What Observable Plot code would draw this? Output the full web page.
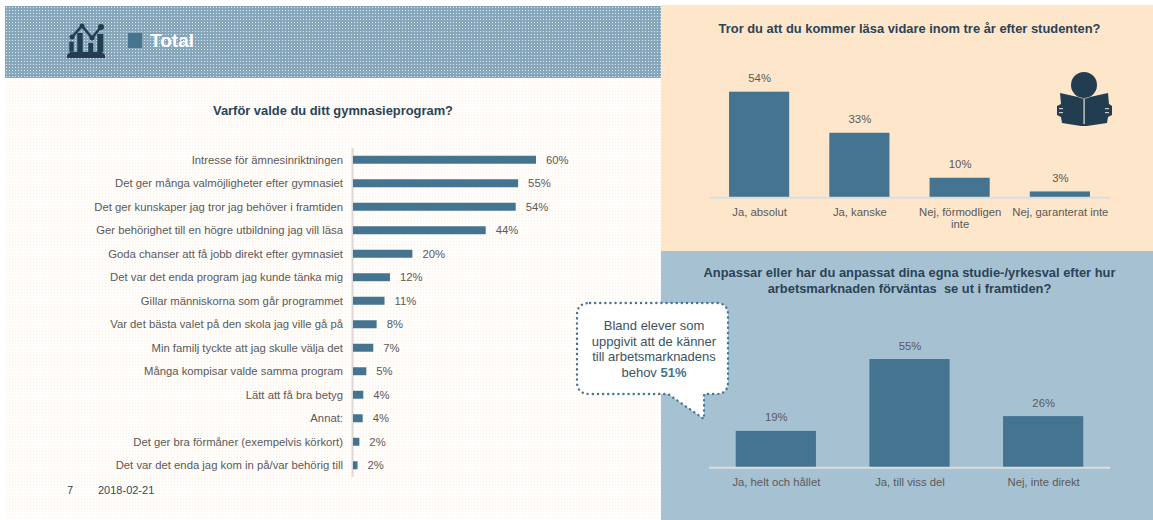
<!DOCTYPE html>
<html><head><meta charset="utf-8">
<script src="https://cdn.jsdelivr.net/npm/d3@7"></script>
<script src="https://cdn.jsdelivr.net/npm/@observablehq/plot@0.6"></script>
<style>
html,body{margin:0;padding:0;background:#fff;font-family:"Liberation Sans",Arial,sans-serif;}
#page{position:relative;width:1153px;height:520px;overflow:hidden;background:#fff;}
.abs{position:absolute;}
#head{left:5px;top:6px;width:656px;height:72px;background-color:#86a6bb;
 background-image:url("data:image/svg+xml,%3Csvg xmlns='http://www.w3.org/2000/svg' width='3' height='3'%3E%3Crect x='1' y='1' width='1' height='1' fill='%23fff' fill-opacity='.75'/%3E%3C/svg%3E");background-size:3px 3px;}
#left{left:5px;top:78px;width:656px;height:442px;background-color:#fffefd;
 background-image:url("data:image/svg+xml,%3Csvg xmlns='http://www.w3.org/2000/svg' width='3' height='3'%3E%3Crect x='1' y='1' width='1' height='1' fill='%23fde2c4' fill-opacity='.6'/%3E%3C/svg%3E");background-size:3px 3px;}
#rt{left:661px;top:5px;width:492px;height:246px;background:#fee6cb;}
#rb{left:661px;top:251px;width:492px;height:269px;background:#a6c2d2;}
.title{position:absolute;color:#2a4356;font-weight:bold;font-size:12.9px;line-height:16px;text-align:center;}
.small{position:absolute;color:#33495a;font-size:11px;}
.plot{position:absolute;}
</style></head><body>
<div id="page">
<div class="abs" id="head"></div>
<div class="abs" id="left"></div>
<div class="abs" id="rt"></div>
<div class="abs" id="rb"></div>
<svg class="abs" style="left:65px;top:22px" width="42" height="38" viewBox="65 22 42 38">
 <g fill="#233d50">
 <path d="M70 52 H102 L105 55 V58 H67 V55 Z"/>
 <rect x="69.3" y="41.7" width="4.4" height="10"/><rect x="77.3" y="33" width="5.4" height="19"/>
 <rect x="88.3" y="43" width="5" height="9"/><rect x="97.3" y="34" width="6" height="18"/>
 <circle cx="72" cy="37" r="2.5"/><circle cx="82" cy="26" r="2.5"/><circle cx="92" cy="38" r="2.5"/><circle cx="101" cy="27" r="3"/>
 </g>
 <polyline points="72,37 82,26 92,38 101,27" fill="none" stroke="#233d50" stroke-width="2.6"/>
</svg>
<div class="abs" style="left:128px;top:33px;width:14px;height:15px;background:#44748f"></div>
<div class="abs" style="left:150px;top:31px;color:#fff;font-weight:bold;font-size:19px;line-height:20px">Total</div>
<div class="title" style="left:5px;width:656px;top:103px">Varför valde du ditt gymnasieprogram?</div>
<div class="title" style="left:661px;width:497px;top:21px">Tror du att du kommer läsa vidare inom tre år efter studenten?</div>
<div class="title" style="left:661px;width:497px;top:265px">Anpassar eller har du anpassat dina egna studie-/yrkesval efter hur<br>arbetsmarknaden förväntas&nbsp; se ut i framtiden?</div>
<div class="small" style="left:67px;top:484px">7</div>
<div class="small" style="left:98px;top:484px">2018-02-21</div>
<svg class="abs" style="left:1055px;top:70px" width="60" height="60" viewBox="1055 70 60 60">
 <g fill="#233d50">
 <circle cx="1084" cy="85" r="13"/>
 <path d="M1060 93 L1078 97 Q1084 100 1090 97 L1108 93 L1109 104 L1112 106 V115 L1108 117 L1107 123 L1087 126 H1081 L1062 123 L1061 117 L1057 115 V106 L1061 104 Z"/>
 </g>
 <rect x="1083.4" y="99" width="1.4" height="25" fill="#c9ccc8"/>
 <g fill="#c9ccc8"><rect x="1059" y="108" width="4" height="1.2"/><rect x="1059" y="112" width="4" height="1.2"/><rect x="1105" y="108" width="4" height="1.2"/><rect x="1105" y="112" width="4" height="1.2"/></g>
</svg>
<div id="charts"></div>
<svg class="abs" style="left:570px;top:295px" width="170" height="135" viewBox="0 0 170 135">
 <path d="M20 8 H146 Q158 8 158 20 V87 Q158 99 146 99 H134 V124 L98 99 H20 Q7 99 7 87 V20 Q7 8 20 8 Z"
 fill="#fff" stroke="#44748f" stroke-width="2.4" stroke-linecap="round" stroke-dasharray="0.1 5"/>
</svg>
<div class="abs" style="left:577px;top:318px;width:154px;text-align:center;font-size:13px;line-height:15.5px;color:#3c5263">Bland elever som<br>uppgivit att de känner<br>till arbetsmarknadens<br>behov <b style="color:#44748f">51%</b></div>
</div>
<script>
const reasons = ["Intresse för ämnesinriktningen","Det ger många valmöjligheter efter gymnasiet","Det ger kunskaper jag tror jag behöver i framtiden","Ger behörighet till en högre utbildning jag vill läsa","Goda chanser att få jobb direkt efter gymnasiet","Det var det enda program jag kunde tänka mig","Gillar människorna som går programmet","Var det bästa valet på den skola jag ville gå på","Min familj tyckte att jag skulle välja det","Många kompisar valde samma program","Lätt att få bra betyg","Annat:","Det ger bra förmåner (exempelvis körkort)","Det var det enda jag kom in på/var behörig till"];
const reasonValues = [60.4,54.5,53.7,43.8,19.6,12.2,10.4,7.8,6.7,4.4,3.4,3.2,2.1,1.5];
const reasonLabels = ["60%","55%","54%","44%","20%","12%","11%","8%","7%","5%","4%","4%","2%","2%"];
const studyCats = ["Ja, absolut","Ja, kanske","Nej, förmodligen\ninte","Nej, garanterat inte"];
const studyValues = [54,33,10,3];
const studyLabels = ["54%","33%","10%","3%"];
const marketCats = ["Ja, helt och hållet","Ja, till viss del","Nej, inte direkt"];
const marketValues = [18.5,55,26];
const marketLabels = ["19%","55%","26%"];
const barColor = "#44748f", textColor = "#595959";
const rows = (c, v, l) => c.map((k, i) => ({k, v: v[i], l: l[i]}));
const base = {style:{background:"transparent",fontFamily:"'Liberation Sans',Arial,sans-serif",fontSize:"11.3px",color:textColor,overflow:"visible"}};
const charts = document.getElementById("charts");
function add(p, l, t){p.style.left=l+"px";p.style.top=t+"px";p.style.position="absolute";p.style.maxWidth="none";charts.appendChild(p);}

const r = rows(reasons, reasonValues, reasonLabels);
add(Plot.plot({...base,width:661,height:520,marginLeft:353,marginRight:125,marginTop:148,marginBottom:43,
 x:{domain:[0,60.4],axis:null},
 y:{domain:reasons,paddingInner:0.66,paddingOuter:0.33,round:false,label:null},
 marks:[
  Plot.axisY({tickSize:0,tickPadding:10.5,label:null,fill:textColor,lineWidth:50}),
  Plot.ruleX([0],{stroke:"#d9d9d9",strokeWidth:2,dx:-1}),
  Plot.barX(r,{x:"v",y:"k",fill:barColor}),
  Plot.text(r,{x:"v",y:"k",text:"l",textAnchor:"start",dx:9.5,fill:textColor})
 ]}),0,0);

function col(d, c, max, w, h, ml, mr, mt, mb, rule){
 return Plot.plot({...base,width:w,height:h,marginLeft:ml,marginRight:mr,marginTop:mt,marginBottom:mb,
  x:{domain:c,paddingInner:0.4,paddingOuter:0.2,round:false,label:null},
  y:{domain:[0,max],axis:null},
  marks:[
   Plot.axisX({tickSize:0,tickPadding:9,label:null,fill:textColor,lineWidth:40,lineHeight:1.1}),
   Plot.barY(d,{x:"k",y:"v",fill:barColor}),
   Plot.ruleY([0],{stroke:rule,strokeWidth:2}),
   Plot.text(d,{x:"k",y:"v",text:"l",dy:-13.5,fill:textColor})
  ]});
}
add(col(rows(studyCats,studyValues,studyLabels),studyCats,54,492,246,48,43,86.7,53.7,"#d8dde3"),661,5);
add(col(rows(marketCats,marketValues,marketLabels),marketCats,55,492,269,48,43,108,52.7,"#dcdcdc"),661,251);
</script>
</body></html>
